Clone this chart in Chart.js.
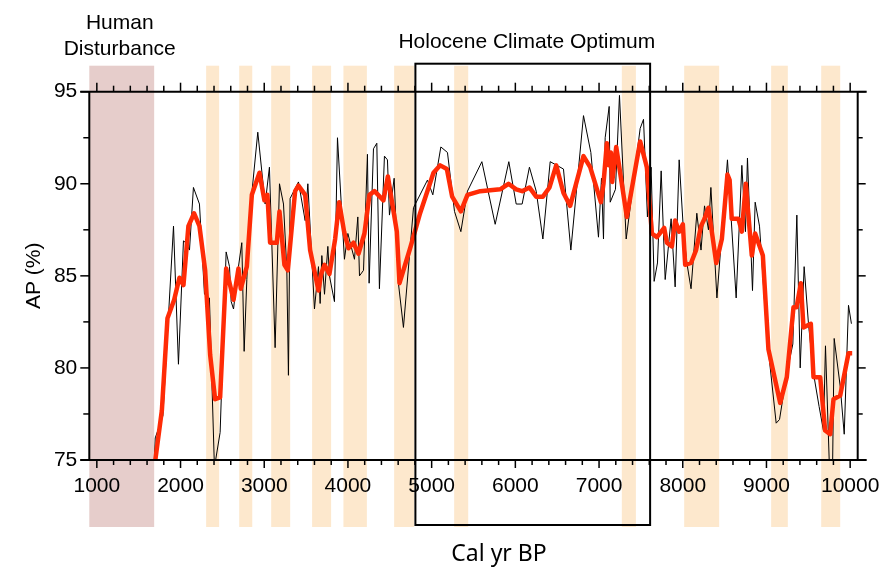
<!DOCTYPE html>
<html>
<head>
<meta charset="utf-8">
<script src="https://cdn.jsdelivr.net/npm/chart.js@4.4.1/dist/chart.umd.min.js"></script>
<style>
  html, body { margin: 0; padding: 0; background: #fff; }
  #wrap { width: 879px; height: 567px; }
</style>
</head>
<body>
<div id="wrap"><canvas id="ap-chart" width="879" height="567"></canvas></div>
<script>
// raw arboreal pollen samples (cal yr BP, %)
var apYears = [1688, 1698, 1789, 1916, 1975, 2035, 2063, 2107, 2154, 2226,
  2286, 2345, 2405, 2473, 2545, 2585, 2605, 2633, 2692, 2732,
  2760, 2792, 2811, 2852, 2923, 3011, 3062, 3130, 3182, 3230,
  3270, 3289, 3309, 3409, 3489, 3521, 3600, 3648, 3668, 3688,
  3720, 3760, 3779, 3839, 3875, 3958, 3999, 4038, 4078, 4118,
  4138, 4186, 4233, 4253, 4305, 4345, 4376, 4436, 4472, 4496,
  4552, 4603, 4663, 4783, 4950, 5014, 5110, 5189, 5273, 5349,
  5428, 5600, 5759, 5922, 6010, 6081, 6168, 6249, 6329, 6416,
  6575, 6663, 6814, 6902, 6993, 7029, 7053, 7073, 7121, 7133,
  7196, 7244, 7324, 7491, 7531, 7578, 7622, 7658, 7698, 7742,
  7790, 7861, 7909, 7957, 8009, 8049, 8099, 8168, 8218, 8260,
  8307, 8336, 8408, 8534, 8638, 8706, 8749, 8773, 8833, 8865,
  8917, 9005, 9116, 9156, 9243, 9315, 9363, 9403, 9450, 9502,
  9562, 9629, 9681, 9705, 9753, 9790, 9809, 9881, 9929, 9980,
  10015];
var apValues = [75.0, 76.2, 77.4, 87.7, 80.2, 86.9, 86.8, 86.4, 89.8, 88.9,
  84.0, 83.8, 74.6, 76.5, 86.3, 85.5, 83.6, 83.2, 85.5, 86.8,
  80.9, 84.8, 86.8, 89.5, 92.8, 88.9, 90.9, 81.1, 90.0, 88.9,
  85.3, 79.6, 89.2, 90.1, 88.0, 90.0, 83.2, 85.5, 83.5, 86.1,
  84.0, 86.6, 85.0, 83.6, 92.5, 85.9, 87.3, 86.6, 85.9, 88.2,
  85.0, 85.3, 91.6, 84.6, 91.9, 92.2, 84.3, 91.5, 91.3, 88.3,
  90.3, 84.6, 82.2, 88.7, 90.2, 89.4, 92.0, 91.7, 88.5, 87.4,
  89.6, 91.2, 87.8, 91.2, 88.9, 88.9, 90.9, 89.6, 87.0, 91.2,
  90.8, 86.4, 93.7, 91.7, 87.1, 90.3, 87.0, 92.5, 94.2, 89.0,
  89.7, 94.8, 87.0, 93.0, 93.5, 88.2, 90.9, 84.7, 85.7, 90.7,
  84.8, 88.1, 84.4, 91.3, 87.4, 85.7, 84.3, 88.4, 86.4, 88.8,
  87.5, 89.8, 83.8, 91.3, 83.8, 91.0, 87.4, 91.4, 84.2, 89.0,
  87.7, 81.7, 77.0, 77.2, 79.7, 81.3, 88.3, 80.0, 85.5, 82.4,
  79.7, 77.9, 76.6, 81.2, 74.5, 74.7, 81.6, 79.0, 76.4, 83.4,
  82.4];

// smoothed curve
var smoothYears = [1690, 1777, 1844, 1924, 1987, 2035, 2094, 2162, 2226, 2294,
  2354, 2413, 2473, 2545, 2633, 2692, 2720, 2792, 2852, 2943,
  3002, 3038, 3070, 3150, 3182, 3241, 3282, 3369, 3409, 3489,
  3548, 3648, 3680, 3720, 3779, 3847, 3895, 3954, 4006, 4066,
  4126, 4197, 4257, 4317, 4424, 4477, 4584, 4616, 4743, 4862,
  5022, 5102, 5182, 5245, 5349, 5428, 5580, 5819, 5918, 6010,
  6081, 6168, 6249, 6329, 6408, 6488, 6575, 6655, 6814, 6894,
  7022, 7053, 7093, 7117, 7141, 7157, 7205, 7332, 7491, 7571,
  7631, 7691, 7778, 7810, 7870, 7909, 7957, 8001, 8029, 8099,
  8159, 8218, 8260, 8307, 8400, 8467, 8534, 8560, 8585, 8665,
  8706, 8753, 8825, 8865, 8957, 9024, 9164, 9243, 9323, 9360,
  9411, 9442, 9530, 9562, 9642, 9701, 9761, 9801, 9881, 9980,
  10024];
var smoothValues = [74.7, 77.7, 82.7, 83.7, 84.9, 84.5, 87.7, 88.4, 87.7, 85.3,
  80.7, 78.3, 78.4, 85.4, 83.7, 85.4, 84.3, 85.5, 89.4, 90.6,
  89.1, 89.4, 86.8, 86.8, 88.5, 85.6, 85.3, 89.6, 89.9, 89.4,
  86.4, 84.2, 85.1, 85.6, 85.1, 87.0, 89.0, 87.4, 86.5, 86.8,
  86.2, 87.3, 89.4, 89.6, 89.1, 90.4, 87.4, 84.6, 86.5, 88.4,
  90.6, 91.0, 90.8, 89.3, 88.5, 89.4, 89.6, 89.7, 90.0, 89.7,
  89.6, 89.8, 89.3, 89.3, 89.8, 91.0, 89.5, 88.8, 91.5, 90.9,
  89.0, 90.0, 92.2, 91.0, 91.7, 90.1, 92.0, 88.2, 92.3, 90.9,
  87.3, 87.1, 87.6, 86.8, 86.6, 88.0, 87.4, 87.8, 85.6, 85.7,
  86.4, 87.7, 88.1, 88.7, 85.7, 87.0, 90.5, 90.2, 88.1, 88.1,
  87.4, 90.0, 86.1, 87.3, 86.1, 81.0, 78.1, 79.5, 83.3, 83.3,
  84.6, 82.2, 82.4, 79.5, 79.5, 76.6, 76.4, 78.3, 78.5, 80.8,
  80.8];

var xTicks = [1000, 2000, 3000, 4000, 5000, 6000, 7000, 8000, 9000, 10000];
var yTicks = [75, 80, 85, 90, 95];

// shaded intervals
var humanBand = [910, 1685];
var bandStarts = [2306, 2701, 3083, 3572, 3946, 4552, 5269, 7272, 8017, 9056, 9654];
var bandEnds = [2461, 2857, 3310, 3799, 4226, 4791, 5437, 7440, 8435, 9255, 9881];
var hcoRange = [4806, 7610];

var labelFont = '"Liberation Sans", Arial, sans-serif';

function seg(c, x1, y1, x2, y2) {
  c.beginPath();
  c.moveTo(x1, y1);
  c.lineTo(x2, y2);
  c.stroke();
}

var decor = {
  id: 'decor',
  beforeDraw: function(chart) {
    var c = chart.ctx, x = chart.scales.x, a = chart.chartArea;
    var top = a.top - 26, bottom = a.bottom + 67;
    c.save();
    var l = x.getPixelForValue(humanBand[0]), r = x.getPixelForValue(humanBand[1]);
    c.fillStyle = '#e6cdcb';
    c.fillRect(l, top, r - l, bottom - top);
    c.fillStyle = '#fde8cd';
    for (var i = 0; i < bandStarts.length; i++) {
      l = x.getPixelForValue(bandStarts[i]);
      r = x.getPixelForValue(bandEnds[i]);
      c.fillRect(l, top, r - l, bottom - top);
    }
    c.restore();
  },
  afterDatasetsDraw: function(chart) {
    var c = chart.ctx, x = chart.scales.x, y = chart.scales.y, a = chart.chartArea;
    c.save();
    c.strokeStyle = '#000';
    c.lineWidth = 2;
    // frame
    seg(c, a.left - 9, a.top, a.right + 9, a.top);
    seg(c, a.left - 9, a.bottom, a.right + 9, a.bottom);
    seg(c, a.left, a.top, a.left, a.bottom);
    seg(c, a.right, a.top, a.right, a.bottom);
    // x ticks, top and bottom
    c.lineWidth = 1.5;
    for (var v = 1000; v <= 10000; v += 200) {
      var px = x.getPixelForValue(v);
      var major = v % 1000 === 0;
      seg(c, px, a.top, px, a.top - (major ? 9 : 6));
      seg(c, px, a.bottom, px, a.bottom + (major ? 8 : 5));
    }
    // y ticks, left and right
    for (var w = 75; w <= 95; w += 2.5) {
      var py = y.getPixelForValue(w);
      var big = w % 5 === 0;
      seg(c, a.left, py, a.left - (big ? 9 : 6), py);
      seg(c, a.right, py, a.right + (big ? 8 : 5), py);
    }
    // Holocene Climate Optimum box
    c.lineWidth = 2;
    var bl = x.getPixelForValue(hcoRange[0]), br = x.getPixelForValue(hcoRange[1]);
    c.strokeRect(bl, a.top - 28, br - bl, a.bottom + 65 - (a.top - 28));

    c.fillStyle = '#000';
    c.textAlign = 'center';
    c.textBaseline = 'alphabetic';
    c.font = '21px ' + labelFont;
    var hc = (x.getPixelForValue(humanBand[0]) + x.getPixelForValue(humanBand[1])) / 2;
    c.fillText('Human', hc - 2, 29);
    c.fillText('Disturbance', hc - 2, 55);
    c.fillText('Holocene Climate Optimum', (bl + br) / 2 - 6, 48);
    c.font = '23px "Noto Sans", "Open Sans", sans-serif';
    c.fillText('Cal yr BP', 499, 561);
    c.restore();
  }
};

var ctx = document.getElementById('ap-chart').getContext('2d');
new Chart(ctx, {
  type: 'line',
  data: {
    datasets: [{
      label: 'Smoothed AP',
      data: smoothYears.map(function(t, i) { return {x: t, y: smoothValues[i]}; }),
      borderColor: '#ff2b06',
      borderWidth: 4.5,
      borderJoinStyle: 'round',
      pointRadius: 0,
      tension: 0
    }, {
      label: 'AP',
      data: apYears.map(function(t, i) { return {x: t, y: apValues[i]}; }),
      borderColor: '#000',
      borderWidth: 1,
      pointRadius: 0,
      tension: 0
    }]
  },
  options: {
    responsive: false,
    animation: false,
    devicePixelRatio: 1,
    layout: { padding: { top: 91.7, right: 21.3, left: 0, bottom: 0 } },
    plugins: { legend: { display: false }, tooltip: { enabled: false } },
    scales: {
      x: {
        type: 'linear',
        min: 910,
        max: 10090,
        grid: { display: false, drawTicks: false },
        border: { display: false },
        afterBuildTicks: function(axis) {
          axis.ticks = xTicks.map(function(v) { return {value: v}; });
        },
        afterFit: function(axis) {
          axis.height = 107;
          axis.paddingLeft = 0;
          axis.paddingRight = 0;
        },
        ticks: {
          font: { family: labelFont, size: 21 },
          color: '#000',
          padding: 14,
          maxRotation: 0,
          autoSkip: false,
          callback: function(v) { return String(v); }
        }
      },
      y: {
        min: 75,
        max: 95,
        grid: { display: false, drawTicks: false },
        border: { display: false },
        afterBuildTicks: function(axis) {
          axis.ticks = yTicks.map(function(v) { return {value: v}; });
        },
        afterFit: function(axis) {
          axis.width = 89.3;
          axis.paddingTop = 0;
          axis.paddingBottom = 0;
        },
        ticks: {
          font: { family: labelFont, size: 21 },
          color: '#000',
          padding: 12
        },
        title: {
          display: true,
          text: 'AP (%)',
          font: { family: labelFont, size: 21 },
          color: '#000',
          padding: { top: 22, bottom: 0 }
        }
      }
    }
  },
  plugins: [decor]
});
</script>
</body>
</html>
